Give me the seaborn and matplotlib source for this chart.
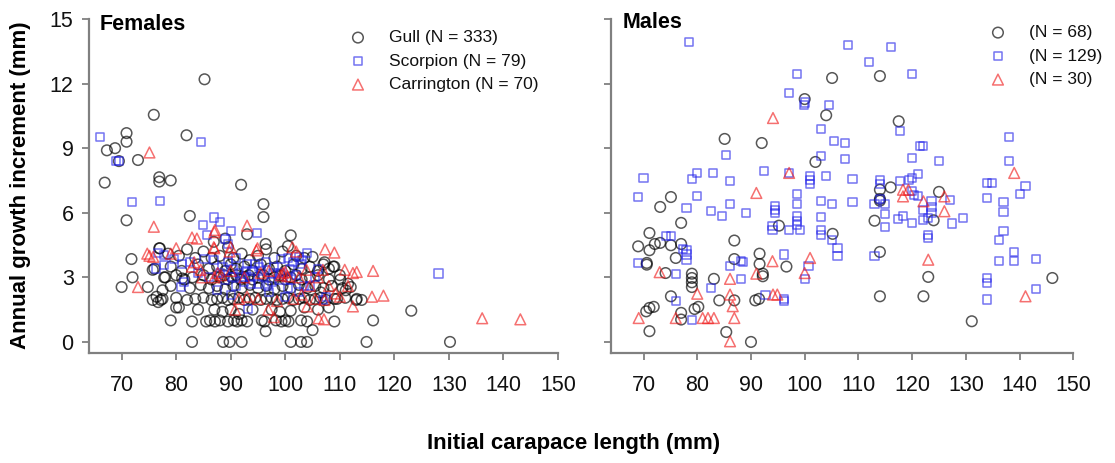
import matplotlib
matplotlib.use("Agg")
import matplotlib.pyplot as plt
import pandas as pd
import seaborn as sns

# ---------------- data (initial carapace length mm, annual growth increment mm) ----------------
gull_f_sparse = [
    (85.2, 12.2), (75.9, 10.55), (70.9, 9.7), (70.9, 9.3), (67.3, 8.9), (68.8, 9.0), (69.5, 8.4),
    (73.0, 8.45), (66.9, 7.4), (81.9, 9.6), (76.9, 7.65), (76.9, 7.45), (79.0, 7.5), (70.9, 5.65),
    (91.9, 7.3), (96.0, 6.4), (96.0, 5.8), (82.5, 5.85), (101.0, 4.95), (93.0, 5.0), (96.4, 4.55),
    (71.8, 3.85), (72.0, 3.0), (70.0, 2.55), (74.8, 2.55), (75.7, 1.95), (76.7, 1.85), (77.2, 1.95),
    (76.4, 2.1), (79.0, 1.0), (82.9, 0.0), (82.9, 0.95), (88.6, 0.0), (89.8, 0.0), (92.0, 0.0),
    (101.0, 0.0), (102.9, 0.0), (104.0, 0.0), (114.9, 0.0), (130.2, 0.0), (123.1, 1.45), (116.1, 1.0),
    (105.0, 0.55), (96.4, 0.5), (109.0, 0.95), (114.0, 1.95), (77.5, 2.4), (75.7, 3.35), (76.9, 4.35),
    (77.8, 3.0), (81.1, 2.95), (80.0, 1.6), (108.8, 3.5), (110.1, 2.9), (111.1, 2.4), (113.1, 2.0),
    (112.0, 2.55), (107.2, 3.7), (109.5, 2.0), (106.5, 2.3), (86.9, 4.65), (89.0, 4.8),
]
gull_f_dense = [
    # around 4 mm
    (77.0, 4.35), (78.5, 4.1), (80.5, 4.0), (82.0, 4.3), (83.5, 3.9), (85.0, 4.2), (86.5, 3.9),
    (88.0, 4.0), (89.5, 4.4), (90.5, 3.9), (92.0, 4.1), (93.5, 3.8), (95.0, 4.0), (96.5, 4.3),
    (98.0, 3.9), (99.5, 4.2), (100.5, 4.45), (102.0, 4.0), (103.5, 3.9), (105.0, 3.95), (107.0, 3.6),
    (109.0, 3.5),
    # around 3.4 mm
    (76.0, 3.4), (79.0, 3.5), (81.0, 3.3), (84.0, 3.6), (86.0, 3.4), (87.5, 3.5), (89.0, 3.3),
    (90.0, 3.6), (91.0, 3.4), (92.5, 3.5), (94.0, 3.3), (95.5, 3.6), (97.0, 3.4), (98.5, 3.5),
    (100.0, 3.3), (101.5, 3.6), (103.0, 3.4), (104.5, 3.5), (106.0, 3.3), (108.0, 3.4), (110.0, 3.1),
    (111.5, 2.7),
    # around 3 mm
    (78.0, 3.0), (80.0, 3.1), (81.5, 2.9), (83.0, 3.0), (85.0, 3.1), (86.5, 2.9), (88.0, 3.0),
    (88.8, 3.1), (89.5, 2.9), (90.2, 3.0), (91.0, 3.1), (91.8, 2.9), (92.5, 3.0), (93.3, 3.1),
    (94.0, 2.9), (95.0, 3.0), (96.0, 3.1), (97.0, 2.9), (98.0, 3.0), (99.0, 3.1), (100.0, 2.9),
    (101.0, 3.0), (102.0, 3.1), (103.0, 2.9), (104.5, 3.0), (106.0, 3.1), (108.0, 2.9),
    # around 2.6 mm
    (79.0, 2.6), (82.5, 2.5), (84.5, 2.65), (86.0, 2.5), (87.5, 2.6), (89.0, 2.45), (90.5, 2.6),
    (92.0, 2.5), (93.5, 2.65), (95.0, 2.5), (96.5, 2.6), (98.0, 2.45), (99.5, 2.6), (101.0, 2.5),
    (102.5, 2.65), (104.0, 2.5), (105.5, 2.6), (107.0, 2.5), (108.5, 2.6), (110.5, 2.5),
    # around 2 mm
    (77.5, 2.0), (80.0, 2.05), (82.0, 1.95), (83.5, 2.0), (85.0, 2.05), (86.5, 1.95), (87.5, 2.0),
    (88.5, 2.05), (89.5, 1.95), (90.5, 2.0), (91.5, 2.05), (92.5, 1.95), (93.5, 2.0), (94.5, 2.05),
    (95.5, 1.95), (96.5, 2.0), (97.5, 2.05), (98.5, 1.95), (99.5, 2.0), (100.5, 2.05), (101.5, 1.95),
    (102.5, 2.0), (103.5, 2.05), (104.5, 1.95), (105.5, 2.0), (106.5, 2.05), (107.5, 1.95),
    (109.0, 2.0), (111.0, 2.05), (113.0, 1.95),
    # around 1.5 mm
    (80.5, 1.6), (84.0, 1.5), (87.0, 1.5), (88.5, 1.4), (90.0, 1.5), (91.5, 1.3), (94.0, 1.5),
    (97.5, 1.5), (99.0, 1.4), (101.0, 1.45), (103.5, 1.6), (106.0, 1.5), (108.0, 1.6),
    # 1 mm
    (85.5, 0.95), (86.2, 1.0), (87.1, 0.95), (88.0, 1.0), (89.5, 0.95), (90.6, 1.0), (91.2, 0.95),
    (92.0, 1.0), (93.0, 0.95), (95.7, 1.0), (96.2, 0.95), (98.3, 1.0), (99.3, 0.95), (100.0, 1.0),
    (100.6, 0.95), (102.9, 1.0), (104.0, 0.95),
]
scorp_f = [
    (66.0, 9.5), (69.0, 8.4), (69.6, 8.4), (84.6, 9.27), (71.9, 6.48), (77.0, 6.56), (86.9, 5.78),
    (88.0, 5.58), (85.0, 5.45), (90.0, 5.16), (94.9, 5.04), (85.6, 4.95), (89.0, 4.77), (89.5, 4.55),
    (76.7, 4.15), (77.8, 4.03), (79.6, 3.87), (81.0, 3.64), (77.8, 3.57), (76.3, 3.41), (80.9, 2.56),
    (85.2, 3.87), (86.9, 3.8), (99.3, 3.86), (100.5, 3.9), (101.5, 3.7), (102.5, 3.95), (104.0, 4.15),
    (103.0, 3.8), (99.0, 3.2), (100.5, 2.5), (101.0, 2.9), (102.0, 3.1), (103.5, 2.6), (96.0, 3.0),
    (95.0, 2.7), (94.0, 3.3), (93.0, 3.6), (92.0, 3.0), (91.0, 2.6), (90.5, 3.4), (89.5, 3.7),
    (89.0, 2.9), (88.0, 3.2), (87.5, 2.4), (91.5, 3.2), (92.5, 2.8), (93.5, 3.0), (94.5, 3.6),
    (95.5, 3.3), (97.5, 2.8), (98.0, 3.5), (93.1, 1.55), (106.9, 1.94), (107.5, 2.1), (104.5, 2.6),
    (105.5, 3.0), (106.0, 3.4), (97.0, 2.3), (96.5, 3.7), (90.0, 2.2), (91.0, 3.9), (100.0, 2.1),
    (102.5, 2.3), (128.1, 3.18), (81.5, 2.8), (82.5, 3.7), (84.0, 3.2), (86.0, 3.0), (92.8, 3.3),
    (93.8, 2.7), (95.2, 3.5), (96.8, 2.6), (98.8, 2.9), (100.8, 3.4), (102.8, 3.6), (90.2, 3.0),
    (88.5, 3.5), (97.8, 3.2),
]
carr_f = [
    (75.1, 8.8), (75.9, 5.35), (75.1, 4.0), (75.8, 3.95), (73.0, 2.55), (82.9, 4.85), (83.8, 4.8),
    (87.1, 5.2), (93.0, 5.4), (86.9, 4.4), (80.0, 4.35), (90.0, 4.4), (94.9, 4.35), (107.3, 4.3),
    (109.0, 4.15), (101.3, 4.4), (102.0, 4.2), (116.1, 3.3), (113.1, 3.25), (110.9, 3.35),
    (112.4, 3.2), (115.9, 2.1), (118.0, 2.15), (112.4, 1.65), (106.1, 1.1), (107.1, 1.05),
    (136.1, 1.1), (143.1, 1.05), (82.9, 3.5), (83.3, 3.7), (84.5, 3.35), (84.8, 3.0), (74.7, 4.1),
    (79.0, 4.1), (87.0, 5.1), (87.0, 4.35), (89.8, 4.2), (94.7, 4.25), (103.9, 3.35), (106.9, 3.35),
    (99.6, 3.2), (99.2, 3.1), (100.0, 3.25), (100.4, 3.05), (87.6, 3.2), (88.2, 3.1), (87.0, 3.0),
    (104.0, 1.65), (96.9, 1.5), (97.9, 1.15), (90.8, 1.5), (109.2, 2.25), (110.0, 2.1), (107.2, 1.95),
    (105.5, 2.0), (103.0, 2.2), (101.5, 2.0), (98.5, 1.9), (95.0, 2.0), (93.0, 2.1), (91.5, 2.0),
    (104.5, 2.6), (108.0, 2.6), (111.5, 2.6), (102.5, 3.0), (97.0, 3.3), (92.5, 3.0), (90.0, 3.3),
    (95.5, 3.2), (106.0, 3.0),
]

gull_m = [
    (105.1, 12.26), (114.0, 12.35), (100.0, 11.28), (104.0, 10.53), (117.5, 10.25), (85.1, 9.43),
    (92.0, 9.24), (102.0, 8.36), (116.0, 7.18), (114.0, 7.07), (114.0, 6.64), (114.0, 6.56),
    (125.0, 6.97), (113.0, 5.63), (124.0, 5.65), (105.2, 5.02), (95.2, 5.4), (77.0, 5.53),
    (73.1, 6.27), (75.1, 6.73), (71.1, 5.06), (69.0, 4.44), (71.1, 4.26), (72.1, 4.55), (73.1, 4.6),
    (75.1, 4.49), (77.0, 4.55), (76.0, 3.9), (70.6, 3.67), (70.6, 3.59), (86.9, 4.71), (86.9, 3.85),
    (91.6, 4.1), (91.6, 3.62), (96.6, 3.5), (114.0, 4.18), (74.1, 3.2), (79.0, 3.17), (79.0, 2.97),
    (79.0, 2.77), (79.0, 2.55), (83.1, 2.93), (92.2, 3.17), (92.2, 3.05), (123.0, 3.02), (146.1, 2.97),
    (75.1, 2.12), (84.1, 1.93), (86.9, 1.93), (90.8, 1.93), (91.5, 2.0), (114.0, 2.12), (122.1, 2.12),
    (70.5, 1.42), (71.1, 1.58), (71.9, 1.63), (77.0, 1.35), (77.0, 1.04), (79.5, 1.53), (80.2, 1.63),
    (71.1, 0.5), (85.4, 0.46), (90.0, 0.0), (131.1, 0.96),
]
scorp_m = [
    (78.5, 13.92), (108.1, 13.78), (116.0, 13.68), (112.0, 13.0), (120.0, 12.46), (98.6, 12.45),
    (97.1, 11.56), (99.9, 10.99), (100.0, 11.12), (104.5, 10.99), (103.0, 9.91), (105.5, 9.32),
    (107.5, 9.24), (103.0, 8.65), (107.5, 8.5), (85.4, 8.68), (92.5, 7.96), (97.1, 7.85),
    (101.0, 7.69), (101.0, 7.51), (101.0, 7.35), (104.0, 7.69), (108.9, 7.57), (86.1, 7.46),
    (80.0, 7.85), (79.0, 7.57), (82.9, 7.85), (70.0, 7.6), (68.9, 6.73), (80.0, 6.76), (78.0, 6.22),
    (82.6, 6.07), (84.6, 5.87), (86.1, 6.42), (89.0, 5.99), (94.5, 6.3), (94.5, 6.11), (94.5, 5.99),
    (94.0, 5.4), (94.0, 5.22), (98.6, 6.87), (98.6, 6.42), (98.6, 5.87), (98.6, 5.6), (98.6, 5.45),
    (97.1, 5.22), (99.1, 5.22), (103.0, 6.56), (103.0, 5.8), (103.0, 5.22), (103.0, 4.95),
    (105.0, 6.42), (105.0, 4.75), (106.1, 4.37), (106.1, 3.98), (108.9, 6.49), (96.1, 4.06),
    (96.1, 2.0), (96.1, 1.89), (100.7, 3.51), (100.0, 2.93), (92.7, 2.17), (88.1, 3.75), (88.5, 3.7),
    (88.1, 2.93), (86.1, 3.51), (82.6, 2.51), (76.0, 1.89), (79.0, 1.0), (76.0, 3.16), (68.9, 3.67),
    (74.1, 4.91), (75.1, 4.91), (77.4, 4.32), (78.0, 4.29), (78.0, 4.06), (78.0, 3.82),
    (114.0, 7.54), (114.0, 7.34), (113.0, 6.42), (114.0, 6.64), (115.0, 6.42), (115.0, 5.96),
    (115.0, 5.33), (113.0, 3.98), (117.8, 9.78), (120.0, 8.54), (121.4, 9.09), (122.1, 9.09),
    (125.0, 8.42), (117.8, 7.46), (119.4, 7.54), (120.0, 7.62), (121.1, 7.82), (118.3, 5.87),
    (117.3, 5.71), (120.0, 5.53), (120.0, 7.0), (120.4, 6.84), (121.1, 6.76), (122.1, 6.11),
    (122.1, 5.68), (123.0, 5.76), (123.0, 4.98), (123.0, 4.83), (123.6, 6.53), (123.6, 6.27),
    (123.6, 5.99), (127.0, 6.61), (127.5, 5.5), (129.5, 5.76), (133.9, 7.38), (134.9, 7.38),
    (133.9, 6.69), (133.9, 2.97), (133.9, 2.74), (133.9, 1.97), (138.0, 9.5), (138.0, 8.39),
    (137.0, 6.5), (137.0, 6.02), (137.0, 5.17), (136.1, 4.72), (136.1, 3.78), (139.0, 4.18),
    (139.0, 3.75), (140.0, 6.87), (141.1, 7.23), (143.1, 3.85), (143.1, 2.46),
]
carr_m = [
    (94.1, 10.4), (97.1, 7.85), (91.0, 6.92), (139.0, 7.85), (118.3, 7.07), (118.3, 6.76),
    (119.3, 7.07), (122.1, 6.53), (126.0, 6.76), (126.0, 6.07), (123.0, 3.82), (101.0, 3.9),
    (94.0, 3.75), (100.0, 3.2), (91.0, 3.17), (73.0, 3.24), (80.0, 2.24), (86.1, 2.93), (86.1, 2.2),
    (86.6, 1.66), (86.9, 1.11), (94.1, 2.2), (94.9, 2.2), (69.1, 1.11), (76.0, 1.11), (81.0, 1.11),
    (82.0, 1.11), (83.1, 1.11), (86.1, 0.03), (141.1, 2.12),
]

female_labels = ["Gull (N = 333)", "Scorpion (N = 79)", "Carrington (N = 70)"]
male_labels = ["(N = 68)", "(N = 129)", "(N = 30)"]
x_ticks = [70, 80, 90, 100, 110, 120, 130, 140, 150]
y_ticks = [0, 3, 6, 9, 12, 15]

# ---------------- style ----------------
sns.set_theme(style="ticks")
plt.rcParams['font.family'] = ['Liberation Sans', 'DejaVu Sans']
plt.rcParams['text.color'] = '#000000'

W, H = 1115, 463
fig = plt.figure(figsize=(W / 100, H / 100), dpi=100)

def fx(px):
    return px / W

def fy(py):
    return 1 - py / H

axL = fig.add_axes([fx(88.9), fy(352.7), fx(558 - 88.9), (352.7 - 19) / H])
axR = fig.add_axes([fx(611.3), fy(352.7), fx(1073.3 - 611.3), (352.7 - 19) / H])

series_style = [
    dict(marker="o", s=58, c="#000000", a=0.66),
    dict(marker="s", s=34, c="#1f1fe8", a=0.62),
    dict(marker="^", s=60, c="#f01818", a=0.62),
]

def draw(ax, data, st, label):
    df = pd.DataFrame(data, columns=["length", "growth"])
    sns.scatterplot(data=df, x="length", y="growth", ax=ax, marker=st["marker"], s=st["s"],
                    color=st["c"], facecolors="none", edgecolor=st["c"], linewidth=1.1,
                    alpha=st["a"], label=label, zorder=3)

draw(axL, gull_f_sparse + gull_f_dense, series_style[0], female_labels[0])
draw(axL, scorp_f, series_style[1], female_labels[1])
draw(axL, carr_f, series_style[2], female_labels[2])
draw(axR, gull_m, series_style[0], male_labels[0])
draw(axR, scorp_m, series_style[1], male_labels[1])
draw(axR, carr_m, series_style[2], male_labels[2])

spine_c = "#808080"
for ax in (axL, axR):
    ax.set_xlim(64, 150)
    ax.set_ylim(-0.5, 15)
    ax.set_xticks(x_ticks)
    ax.set_yticks(y_ticks)
    ax.set_xlabel("")
    ax.set_ylabel("")
    for side in ("top", "right"):
        ax.spines[side].set_visible(False)
    for side in ("left", "bottom"):
        ax.spines[side].set_color(spine_c)
        ax.spines[side].set_linewidth(1.6)
    ax.tick_params(axis="both", direction="out", length=5, width=1.3, color=spine_c,
                   labelsize=15.5, labelcolor="#111111")
    ax.tick_params(axis="x", pad=11)
    ax.tick_params(axis="y", pad=6)
    ax.set_facecolor("none")

axR.tick_params(axis="y", labelleft=False)

leg_kw = dict(frameon=False, fontsize=12.5, borderpad=0, borderaxespad=0, handlelength=2.0,
              handletextpad=0.8, labelspacing=0.48, loc="upper left",
              bbox_transform=fig.transFigure, labelcolor="#111111")
axL.legend(bbox_to_anchor=(fx(340.6), fy(30)), **leg_kw)
axR.legend(bbox_to_anchor=(fx(980.6), fy(25)), **leg_kw)

fig.text(fx(100), fy(24), "Females", ha="left", va="center", fontsize=15.5, fontweight="bold",
         color="#000000")
fig.text(fx(623), fy(23), "Males", ha="left", va="center", fontsize=15.5, fontweight="bold",
         color="#000000")
fig.text(fx(574), fy(444), "Initial carapace length (mm)", ha="center", va="center",
         fontsize=16, fontweight="bold", color="#000000")
fig.text(fx(21), fy(185), "Annual growth increment (mm)", ha="center", va="center",
         rotation=90, fontsize=16, fontweight="bold", color="#000000")

fig.savefig("out.png", dpi=100, facecolor="white")
